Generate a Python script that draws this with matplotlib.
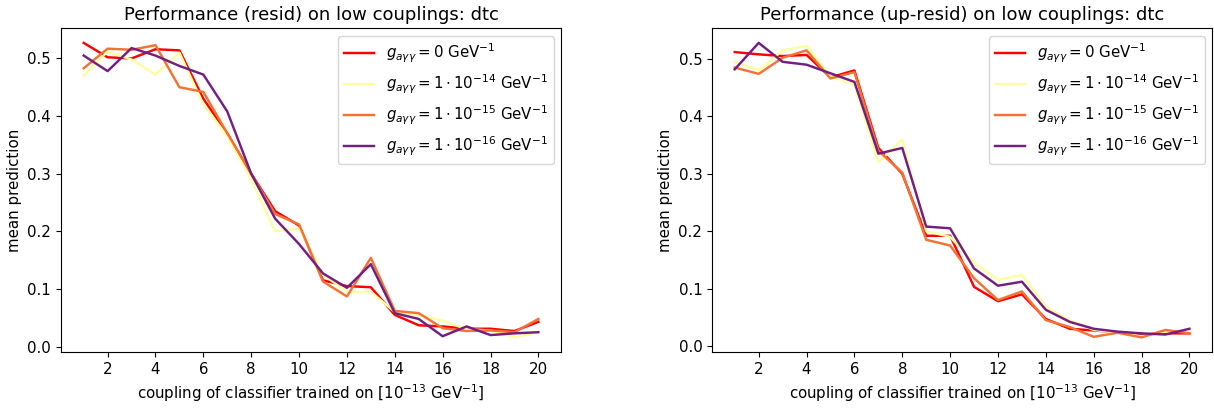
import matplotlib
matplotlib.use("Agg")
import matplotlib.pyplot as plt
import numpy as np

couplings = list(range(1, 21))

labels = [r"$g_{a\gamma\gamma} = 0$ GeV$^{-1}$",
          r"$g_{a\gamma\gamma} = 1 \cdot 10^{-14}$ GeV$^{-1}$",
          r"$g_{a\gamma\gamma} = 1 \cdot 10^{-15}$ GeV$^{-1}$",
          r"$g_{a\gamma\gamma} = 1 \cdot 10^{-16}$ GeV$^{-1}$"]
colors = ["#ff0000", "#fcffa4", "#f37335", "#721f81"]

resid_g0 = [0.527, 0.502, 0.500, 0.516, 0.514, 0.430, 0.370, 0.300, 0.235, 0.210,
            0.115, 0.105, 0.103, 0.055, 0.037, 0.035, 0.031, 0.031, 0.027, 0.043]
resid_g14 = [0.470, 0.512, 0.498, 0.472, 0.510, 0.420, 0.365, 0.290, 0.200, 0.205,
             0.125, 0.095, 0.095, 0.060, 0.055, 0.045, 0.030, 0.028, 0.016, 0.025]
resid_g15 = [0.483, 0.517, 0.515, 0.523, 0.450, 0.442, 0.370, 0.300, 0.230, 0.212,
             0.113, 0.087, 0.154, 0.062, 0.058, 0.032, 0.027, 0.028, 0.025, 0.048]
resid_g16 = [0.505, 0.478, 0.518, 0.505, 0.487, 0.472, 0.408, 0.300, 0.222, 0.178,
             0.127, 0.102, 0.143, 0.058, 0.048, 0.018, 0.035, 0.020, 0.023, 0.025]

upresid_g0 = [0.512, 0.508, 0.505, 0.507, 0.468, 0.480, 0.345, 0.300, 0.192, 0.192,
              0.103, 0.078, 0.090, 0.047, 0.030, 0.027, 0.024, 0.020, 0.022, 0.022]
upresid_g14 = [0.495, 0.480, 0.515, 0.523, 0.470, 0.455, 0.320, 0.360, 0.200, 0.190,
               0.145, 0.115, 0.124, 0.068, 0.045, 0.028, 0.023, 0.017, 0.025, 0.025]
upresid_g15 = [0.485, 0.474, 0.502, 0.515, 0.466, 0.477, 0.340, 0.302, 0.185, 0.175,
               0.118, 0.080, 0.095, 0.045, 0.033, 0.016, 0.023, 0.015, 0.028, 0.022]
upresid_g16 = [0.482, 0.528, 0.495, 0.490, 0.475, 0.460, 0.335, 0.345, 0.208, 0.205,
               0.135, 0.105, 0.112, 0.063, 0.042, 0.030, 0.025, 0.022, 0.020, 0.030]

panels = [
    ("Performance (resid) on low couplings: dtc", [resid_g0, resid_g14, resid_g15, resid_g16]),
    ("Performance (up-resid) on low couplings: dtc", [upresid_g0, upresid_g14, upresid_g15, upresid_g16]),
]

fs = 10.85
fig = plt.figure(figsize=(12.14, 4.08), dpi=100)
lefts = [0.0502, 0.5865]
for (title, series), left in zip(panels, lefts):
    ax = fig.add_axes([left, 0.137, 0.412, 0.794])
    for vals, lab, col in zip(series, labels, colors):
        ax.plot(couplings, vals, color=col, label=lab, linewidth=1.75)
    ax.set_title(title, fontsize=13)
    ax.set_xlabel(r"coupling of classifier trained on [$10^{-13}$ GeV$^{-1}$]", fontsize=fs)
    ax.set_ylabel("mean prediction", fontsize=fs)
    ax.set_xticks(range(2, 21, 2))
    ax.tick_params(labelsize=fs)
    ax.legend(loc="upper right", fontsize=fs)

fig.savefig("out.png", dpi=100)
